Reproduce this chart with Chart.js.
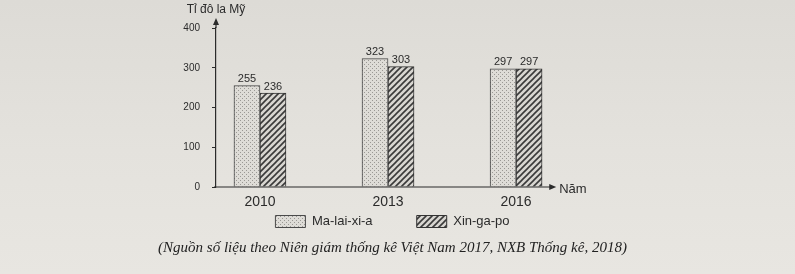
<!DOCTYPE html>
<html>
<head>
<meta charset="utf-8">
<script src="https://cdn.jsdelivr.net/npm/chart.js@4"></script>
<style>
  html, body { margin: 0; padding: 0; }
  body { width: 795px; height: 274px; background: linear-gradient(180deg, #dddbd6 0%, #e4e2dd 55%, #e8e6e1 100%); }
  #wrap { position: relative; width: 795px; height: 274px; }
</style>
</head>
<body>
<div id="wrap"><canvas id="chart" width="795" height="274"></canvas></div>
<script>
// Du lieu
const nam = [2010, 2013, 2016];
const malaixia = [255, 323, 297];
const xingapo = [236, 303, 297];
const yTicks = [0, 100, 200, 300, 400];

const ink = '#2b2b2b';
const sans = '"Liberation Sans", Arial, sans-serif';

// hoa van cho cot
function dotPattern() {
  const c = document.createElement('canvas');
  c.width = 4; c.height = 4;
  const g = c.getContext('2d');
  g.fillStyle = '#dedcd7';
  g.fillRect(0, 0, 4, 4);
  g.fillStyle = '#9a9894';
  g.fillRect(0, 0, 1, 1);
  g.fillRect(2, 2, 1, 1);
  return g.createPattern(c, 'repeat');
}
function hatchPattern() {
  const c = document.createElement('canvas');
  c.width = 6; c.height = 6;
  const g = c.getContext('2d');
  g.fillStyle = '#d8d6d1';
  g.fillRect(0, 0, 6, 6);
  g.strokeStyle = '#3a3a3a';
  g.lineWidth = 1.6;
  g.beginPath();
  g.moveTo(-1, 7); g.lineTo(7, -1);
  g.moveTo(-4, 4); g.lineTo(4, -4);
  g.moveTo(2, 10); g.lineTo(10, 2);
  g.stroke();
  return g.createPattern(c, 'repeat');
}

// nhan so lieu, truc x, mui ten, ten truc
const extras = {
  id: 'extras',
  afterDatasetsDraw(chart) {
    const ctx = chart.ctx;
    ctx.save();
    ctx.fillStyle = ink;
    ctx.font = '11px ' + sans;
    ctx.textAlign = 'center';
    ctx.textBaseline = 'bottom';
    chart.data.datasets.forEach((ds, i) => {
      chart.getDatasetMeta(i).data.forEach((bar, j) => {
        ctx.fillText(ds.data[j].y, bar.x, bar.y - 1);
      });
    });
    const a = chart.chartArea;
    const x0 = chart.scales.x.left;
    const xEnd = chart.scales.x.getPixelForValue(2016.8);
    const y0 = chart.scales.y.getPixelForValue(0);
    ctx.strokeStyle = ink;
    ctx.lineWidth = 1.2;
    ctx.beginPath();
    ctx.moveTo(x0, a.top); ctx.lineTo(x0, a.top - 6);
    ctx.moveTo(x0 - 2, y0); ctx.lineTo(xEnd, y0);
    ctx.stroke();
    ctx.beginPath();
    ctx.moveTo(x0, a.top - 10); ctx.lineTo(x0 - 3, a.top - 3); ctx.lineTo(x0 + 3, a.top - 3); ctx.closePath();
    ctx.moveTo(xEnd + 6, y0); ctx.lineTo(xEnd - 1, y0 - 3); ctx.lineTo(xEnd - 1, y0 + 3); ctx.closePath();
    ctx.fill();
    ctx.font = '13px ' + sans;
    ctx.textAlign = 'left';
    ctx.textBaseline = 'middle';
    ctx.fillText('Năm', xEnd + 9, y0 + 2);
    ctx.textAlign = 'center';
    ctx.font = '12px ' + sans;
    ctx.fillText('Tỉ đô la Mỹ', x0, 10);
    ctx.restore();
  }
};

new Chart(document.getElementById('chart'), {
  type: 'bar',
  data: {
    datasets: [
      {
        label: 'Ma-lai-xi-a',
        data: nam.map((n, i) => ({ x: n, y: malaixia[i] })),
        backgroundColor: dotPattern(),
        borderColor: '#4a4a4a',
        borderWidth: 1,
        barThickness: 26
      },
      {
        label: 'Xin-ga-po',
        data: nam.map((n, i) => ({ x: n, y: xingapo[i] })),
        backgroundColor: hatchPattern(),
        borderColor: '#333',
        borderWidth: 1,
        barThickness: 26
      }
    ]
  },
  options: {
    responsive: false,
    animation: false,
    layout: { padding: { left: 0, right: 10, top: 28, bottom: 11 } },
    scales: {
      x: {
        type: 'linear',
        offset: false,
        min: 2008.97,
        max: 2022.3,
        afterBuildTicks: s => { s.ticks = nam.map(v => ({ value: v })); },
        afterFit: s => { s.height = 20; },
        grid: { display: false, drawTicks: false },
        border: { display: false },
        ticks: {
          color: ink,
          padding: 7,
          font: { family: sans, size: 14 },
          callback: v => String(v)
        }
      },
      y: {
        min: 0,
        max: 400,
        afterBuildTicks: s => { s.ticks = yTicks.map(v => ({ value: v })); },
        afterFit: s => { s.width = 216; },
        grid: { drawOnChartArea: false, tickLength: 4, color: ink },
        border: { color: ink, width: 1.2 },
        ticks: {
          color: ink,
          padding: 12,
          font: { family: sans, size: 10 }
        }
      }
    },
    plugins: {
      legend: {
        position: 'bottom',
        labels: {
          boxWidth: 30,
          boxHeight: 12,
          padding: 8,
          color: ink,
          font: { family: sans, size: 13 },
          generateLabels: chart => {
            const items = Chart.defaults.plugins.legend.labels.generateLabels(chart);
            // khoang cach giua hai muc chu giai
            items[0].text = items[0].text + '          ';
            return items;
          }
        }
      },
      title: {
        display: true,
        position: 'bottom',
        text: '(Nguồn số liệu theo Niên giám thống kê Việt Nam 2017, NXB Thống kê, 2018)',
        color: '#222',
        font: { family: '"Liberation Serif", "DejaVu Serif", serif', size: 15, style: 'italic', weight: 'normal' },
        padding: { top: 1, bottom: 6 }
      },
      tooltip: { enabled: false }
    }
  },
  plugins: [extras]
});
</script>
</body>
</html>
